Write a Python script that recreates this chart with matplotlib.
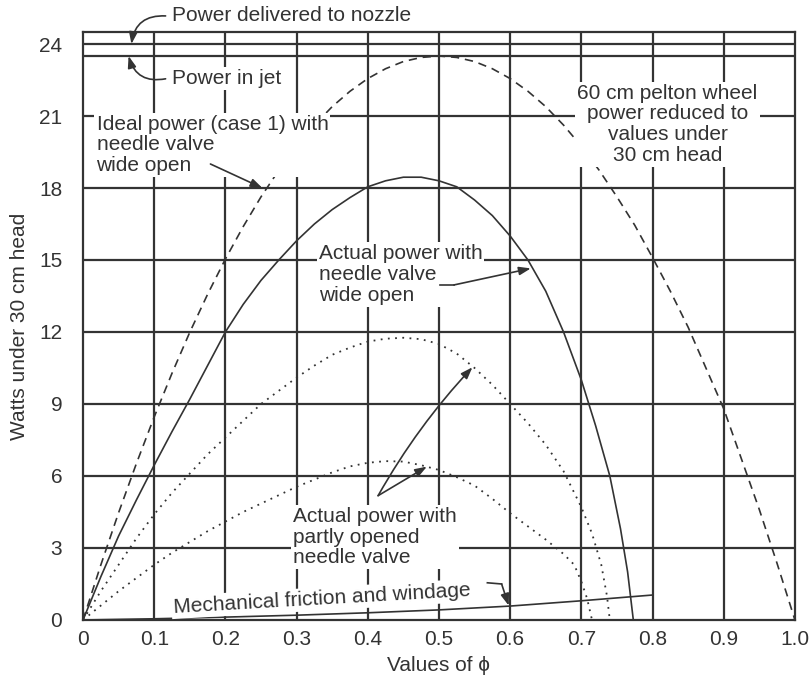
import matplotlib
matplotlib.use("Agg")
import matplotlib.pyplot as plt

plt.rcParams['font.family'] = ['Liberation Sans', 'DejaVu Sans']

# ---- data ----
phi_ideal = [0, 0.025, 0.05, 0.075, 0.1, 0.125, 0.15, 0.175, 0.2, 0.225, 0.25,
             0.275, 0.3, 0.325, 0.35, 0.375, 0.4, 0.425, 0.45, 0.475, 0.5,
             0.525, 0.55, 0.575, 0.6, 0.625, 0.65, 0.675, 0.7, 0.725, 0.75,
             0.775, 0.8, 0.825, 0.85, 0.875, 0.9, 0.925, 0.95, 0.975, 1.0]
p_ideal = [0, 2.29, 4.47, 6.52, 8.46, 10.28, 11.99, 13.57, 15.04, 16.39, 17.63,
           18.74, 19.74, 20.62, 21.39, 22.03, 22.56, 22.97, 23.27, 23.44, 23.5,
           23.44, 23.27, 22.97, 22.56, 22.03, 21.39, 20.62, 19.74, 18.74, 17.63,
           16.45, 15.1, 13.7, 12.2, 10.5, 8.8, 6.7, 4.6, 2.35, 0]

phi_actual = [0, 0.025, 0.05, 0.075, 0.1, 0.125, 0.15, 0.175, 0.2, 0.225, 0.25,
              0.275, 0.3, 0.325, 0.35, 0.375, 0.4, 0.425, 0.45, 0.475, 0.5,
              0.525, 0.55, 0.575, 0.6, 0.625, 0.65, 0.675, 0.7, 0.72, 0.74,
              0.755, 0.765, 0.773]
p_actual = [0, 1.8, 3.5, 5.0, 6.45, 7.85, 9.2, 10.6, 12.0, 13.15, 14.15,
            15.0, 15.8, 16.5, 17.1, 17.6, 18.05, 18.3, 18.45, 18.45, 18.3,
            18.05, 17.5, 16.85, 16.0, 15.0, 13.7, 12.0, 10.0, 8.1, 6.0,
            3.8, 2.0, 0]

phi_part1 = [0, 0.025, 0.05, 0.075, 0.1, 0.125, 0.15, 0.175, 0.2, 0.225, 0.25,
             0.275, 0.3, 0.325, 0.35, 0.375, 0.4, 0.425, 0.45, 0.475, 0.5,
             0.525, 0.55, 0.575, 0.6, 0.625, 0.65, 0.675, 0.7, 0.715, 0.728,
             0.736, 0.74]
p_part1 = [0, 1.2, 2.3, 3.4, 4.4, 5.3, 6.1, 6.9, 7.6, 8.3, 9.0,
           9.55, 10.1, 10.6, 11.05, 11.35, 11.6, 11.72, 11.76, 11.7, 11.5,
           11.1, 10.5, 9.8, 9.0, 8.2, 7.3, 6.2, 4.7, 3.6, 2.3,
           1.0, 0]

phi_part2 = [0, 0.025, 0.05, 0.075, 0.1, 0.125, 0.15, 0.175, 0.2, 0.225, 0.25,
             0.275, 0.3, 0.325, 0.35, 0.375, 0.4, 0.425, 0.45, 0.475, 0.5,
             0.525, 0.55, 0.575, 0.6, 0.625, 0.65, 0.675, 0.69, 0.7, 0.708,
             0.715]
p_part2 = [0, 0.6, 1.2, 1.75, 2.3, 2.8, 3.25, 3.7, 4.1, 4.5, 4.85,
           5.2, 5.55, 5.85, 6.15, 6.4, 6.55, 6.62, 6.6, 6.45, 6.25,
           5.95, 5.6, 5.05, 4.45, 3.9, 3.35, 2.75, 2.3, 1.6, 0.9,
           0]

phi_fric = [0, 0.1, 0.2, 0.3, 0.4, 0.5, 0.6, 0.7, 0.8]
p_fric = [0, 0.05, 0.12, 0.2, 0.3, 0.42, 0.58, 0.8, 1.04]

power_nozzle = 24.0
power_jet = 23.5

xticks = [0, 0.1, 0.2, 0.3, 0.4, 0.5, 0.6, 0.7, 0.8, 0.9, 1.0]
xticklabels = ['0', '0.1', '0.2', '0.3', '0.4', '0.5', '0.6', '0.7', '0.8', '0.9', '1.0']
yticks = [0, 3, 6, 9, 12, 15, 18, 21, 24]

# ---- styling ----
C = '#333333'
FS = 15
GW = 1.6
LS = 1.11

fig = plt.figure(figsize=(8.09, 6.81), dpi=100)
ax = fig.add_axes([0.1026, 0.0896, 0.880, 0.8634])
ax.set_xlim(0, 1.0)
ax.set_ylim(0, 24.5)

for s in ax.spines.values():
    s.set_color(C)
    s.set_linewidth(GW)

# grid
for x in xticks[1:-1]:
    ax.axvline(x, color=C, lw=GW, zorder=1)
for y in yticks[1:-1]:
    ax.axhline(y, color=C, lw=GW, zorder=1)
ax.axhline(power_nozzle, color=C, lw=GW, zorder=1)
ax.axhline(power_jet, color=C, lw=GW, zorder=1)

ax.set_xticks(xticks)
ax.set_xticklabels(xticklabels)
ax.set_yticks(yticks)
ax.tick_params(axis='both', which='major', length=0, labelsize=FS, colors=C)
ax.tick_params(axis='y', which='major', pad=15)
ax.tick_params(axis='x', which='major', pad=7)
ax.set_yticks([power_nozzle], minor=True)
ax.tick_params(axis='y', which='minor', length=10, width=GW, color=C)

ax.set_xlabel('Values of ϕ', fontsize=FS, color=C, labelpad=5)
ax.set_ylabel('Watts under 30 cm head', fontsize=FS, color=C, labelpad=7)

# curves
ax.plot(phi_ideal, p_ideal, color=C, lw=1.2, ls=(0, (5, 3.5)), zorder=3)
ax.plot(phi_actual, p_actual, color=C, lw=1.2, zorder=3)
ax.plot(phi_part1, p_part1, color=C, lw=1.3, ls=(0, (1, 3)), zorder=3)
ax.plot(phi_part2, p_part2, color=C, lw=1.3, ls=(0, (1, 3)), zorder=3)
ax.plot(phi_fric, p_fric, color=C, lw=1.2, zorder=3)

bb = dict(facecolor='white', edgecolor='none', pad=1.5)
aprops = dict(arrowstyle='-|>,head_length=0.7,head_width=0.25', color=C, lw=1.2,
              shrinkA=0, shrinkB=0)

# labels
ax.text(0.125, 25.17, 'Power delivered to nozzle', fontsize=FS, color=C,
        va='center', ha='left', clip_on=False)
ax.annotate('', xy=(0.068, power_nozzle), xytext=(0.116, 25.17),
            arrowprops=dict(aprops, connectionstyle='arc3,rad=0.45'),
            annotation_clip=False)

ax.text(0.125, 22.55, 'Power in jet', fontsize=FS, color=C, va='center', ha='left',
        bbox=bb, zorder=4)
ax.annotate('', xy=(0.064, power_jet), xytext=(0.116, 22.55),
            arrowprops=dict(aprops, connectionstyle='arc3,rad=-0.45'), zorder=5)

ax.text(0.019, 21.05, 'Ideal power (case 1) with\nneedle valve\nwide open',
        fontsize=FS, color=C, va='top', ha='left', linespacing=LS,
        bbox=bb, zorder=4)
ax.annotate('', xy=(0.252, 18.0), xytext=(0.179, 19.0),
            arrowprops=aprops, zorder=5)

ax.text(0.821, 22.35, '60 cm pelton wheel\npower reduced to\nvalues under\n30 cm head',
        fontsize=FS, color=C, va='top', ha='center', linespacing=LS,
        bbox=bb, zorder=4)

ax.text(0.331, 15.65, 'Actual power with\nneedle valve\nwide open',
        fontsize=FS, color=C, va='top', ha='left', linespacing=LS,
        bbox=bb, zorder=4)
ax.plot([0.502, 0.521], [13.96, 13.96], color=C, lw=1.2, zorder=5)
ax.annotate('', xy=(0.629, 14.65), xytext=(0.521, 13.96),
            arrowprops=aprops, zorder=5)

ax.text(0.295, 4.71, 'Actual power with\npartly opened\nneedle valve',
        fontsize=FS, color=C, va='top', ha='left', linespacing=LS,
        bbox=bb, zorder=4)
ax.annotate('', xy=(0.483, 6.39), xytext=(0.4145, 5.18),
            arrowprops=aprops, zorder=5)
ax.annotate('', xy=(0.547, 10.53), xytext=(0.4145, 5.18),
            arrowprops=dict(aprops, connectionstyle='arc3,rad=-0.06'), zorder=5)

ax.text(0.336, 0.88, 'Mechanical friction and windage', fontsize=FS, color=C,
        va='center', ha='center', rotation=3.3, rotation_mode='anchor',
        bbox=bb, zorder=4)
ax.plot([0.568, 0.588], [1.55, 1.5], color=C, lw=1.2, zorder=5)
ax.annotate('', xy=(0.598, 0.6), xytext=(0.588, 1.5),
            arrowprops=aprops, zorder=5)

fig.savefig('out.png', dpi=100)
